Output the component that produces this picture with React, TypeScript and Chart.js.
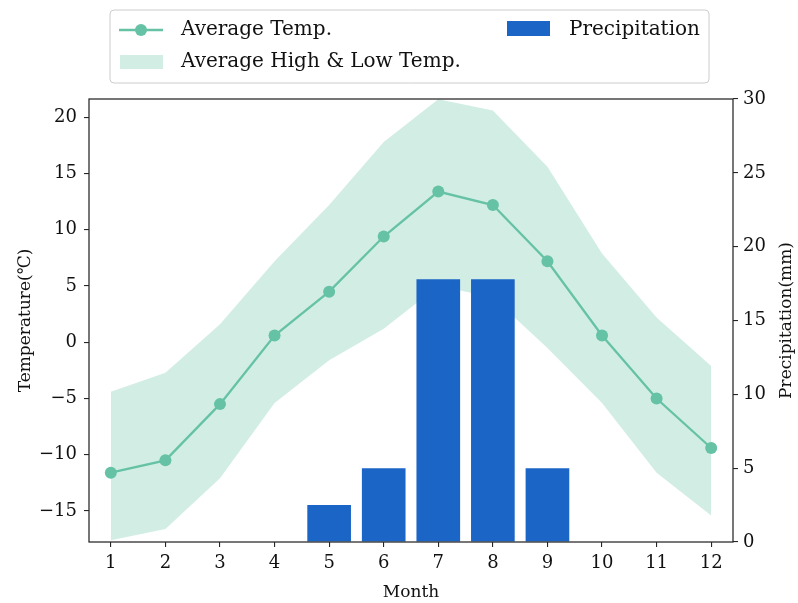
import React, { useEffect, useRef } from "react";
import { Chart, registerables } from "chart.js";

Chart.register(...registerables);

const months = [1, 2, 3, 4, 5, 6, 7, 8, 9, 10, 11, 12];
const avgTemp = [-11.6, -10.5, -5.5, 0.6, 4.5, 9.4, 13.4, 12.2, 7.2, 0.6, -5.0, -9.4];
const highTemp = [-4.4, -2.7, 1.6, 7.2, 12.2, 17.8, 21.6, 20.6, 15.6, 7.9, 2.2, -2.1];
const lowTemp = [-17.6, -16.6, -12.1, -5.4, -1.6, 1.2, 5.0, 4.0, -0.5, -5.4, -11.6, -15.4];
const precipitation = [0, 0, 0, 0, 2.5, 5, 17.8, 17.8, 5, 0, 0, 0];
const tempTicks = [-15, -10, -5, 0, 5, 10, 15, 20];
const precipTicks = [0, 5, 10, 15, 20, 25, 30];

const FONT = "'DejaVu Serif', serif";
const GREEN = "#66c2a5";
const BAND = "rgba(102,194,165,0.3)";
const BLUE = "#1b65c6";
const INK = "#262626";

const framePlugin = {
  id: "frameAndLegend",
  afterDraw(chart: any) {
    const { ctx, chartArea } = chart;
    ctx.save();
    ctx.strokeStyle = INK;
    ctx.lineWidth = 1.25;
    ctx.strokeRect(chartArea.left, chartArea.top, chartArea.right - chartArea.left, chartArea.bottom - chartArea.top);

    // right axis title (reads bottom to top)
    ctx.save();
    ctx.translate(787, (chartArea.top + chartArea.bottom) / 2);
    ctx.rotate(-Math.PI / 2);
    ctx.fillStyle = "#111";
    ctx.font = `17px ${FONT}`;
    ctx.textAlign = "center";
    ctx.textBaseline = "middle";
    ctx.fillText("Precipitation(mm)", 0, 0);
    ctx.restore();

    // legend box
    const bx = 110, by = 10, bw = 599, bh = 73, r = 4;
    ctx.beginPath();
    ctx.moveTo(bx + r, by);
    ctx.lineTo(bx + bw - r, by);
    ctx.quadraticCurveTo(bx + bw, by, bx + bw, by + r);
    ctx.lineTo(bx + bw, by + bh - r);
    ctx.quadraticCurveTo(bx + bw, by + bh, bx + bw - r, by + bh);
    ctx.lineTo(bx + r, by + bh);
    ctx.quadraticCurveTo(bx, by + bh, bx, by + bh - r);
    ctx.lineTo(bx, by + r);
    ctx.quadraticCurveTo(bx, by, bx + r, by);
    ctx.closePath();
    ctx.fillStyle = "rgba(255,255,255,0.8)";
    ctx.fill();
    ctx.strokeStyle = "#cccccc";
    ctx.lineWidth = 1;
    ctx.stroke();

    // line entry
    ctx.strokeStyle = GREEN;
    ctx.lineWidth = 2.3;
    ctx.beginPath();
    ctx.moveTo(119, 30);
    ctx.lineTo(163, 30);
    ctx.stroke();
    ctx.fillStyle = GREEN;
    ctx.beginPath();
    ctx.arc(141, 30, 6, 0, Math.PI * 2);
    ctx.fill();
    // band entry
    ctx.fillStyle = BAND;
    ctx.fillRect(120, 55, 43, 14);
    // bar entry
    ctx.fillStyle = BLUE;
    ctx.fillRect(507, 21, 43, 15);

    ctx.fillStyle = "#111";
    ctx.font = `20px ${FONT}`;
    ctx.textBaseline = "middle";
    ctx.textAlign = "left";
    ctx.fillText("Average Temp.", 181, 30);
    ctx.fillText("Average High & Low Temp.", 181, 62);
    ctx.fillText("Precipitation", 569, 30);
    ctx.restore();
  },
};

export default function App() {
  const ref = useRef<HTMLCanvasElement>(null);
  useEffect(() => {
    if (!ref.current) return;
    Chart.defaults.font.family = FONT;
    Chart.defaults.color = "#111";
    const pts = (arr: number[]) => months.map((m, i) => ({ x: m, y: arr[i] }));
    const chart = new Chart(ref.current, {
      type: "bar",
      data: {
        datasets: [
          {
            type: "line",
            label: "High",
            data: pts(highTemp),
            yAxisID: "y",
            borderWidth: 0,
            pointRadius: 0,
            backgroundColor: BAND,
            fill: "+1",
            order: 4,
          } as any,
          {
            type: "line",
            label: "Low",
            data: pts(lowTemp),
            yAxisID: "y",
            borderWidth: 0,
            pointRadius: 0,
            fill: false,
            order: 4,
          } as any,
          {
            type: "line",
            label: "Average Temp.",
            data: pts(avgTemp),
            yAxisID: "y",
            borderColor: GREEN,
            backgroundColor: GREEN,
            borderWidth: 2.3,
            pointRadius: 6,
            pointBorderWidth: 0,
            pointBackgroundColor: GREEN,
            fill: false,
            order: 2,
          } as any,
          {
            type: "bar",
            label: "Precipitation",
            data: pts(precipitation),
            yAxisID: "y1",
            backgroundColor: BLUE,
            borderWidth: 0,
            categoryPercentage: 1,
            barPercentage: 0.8,
            order: 1,
          } as any,
        ],
      },
      options: {
        animation: false,
        responsive: false,
        maintainAspectRatio: false,
        layout: { padding: { top: 99, left: 0, right: 0, bottom: 0 } },
        plugins: { legend: { display: false }, tooltip: { enabled: false } },
        scales: {
          x: {
            type: "linear",
            min: 0.6,
            max: 12.4,
            offset: false,
            afterBuildTicks: (s: any) => { s.ticks = months.map((v) => ({ value: v })); },
            afterFit: (s: any) => { s.height = 61; },
            grid: { offset: false, drawOnChartArea: false, drawTicks: true, tickLength: 5, color: INK, lineWidth: 1.1 },
            border: { display: false },
            ticks: { font: { size: 18 }, padding: 6, color: "#111", maxRotation: 0, autoSkip: false },
            title: { display: true, text: "Month", font: { size: 17 }, padding: { top: 0, bottom: 0 }, color: "#111" },
          },
          y: {
            type: "linear",
            position: "left",
            min: -17.76,
            max: 21.63,
            afterBuildTicks: (s: any) => { s.ticks = tempTicks.map((v) => ({ value: v })); },
            afterFit: (s: any) => { s.width = 89; },
            grid: { drawOnChartArea: false, drawTicks: true, tickLength: 5, color: INK, lineWidth: 1.1 },
            border: { display: false },
            ticks: {
              font: { size: 18 },
              padding: 7,
              color: "#111",
              callback: (v: any) => (Number(v) < 0 ? "\u2212" + Math.abs(Number(v)) : String(v)),
            },
            title: { display: true, text: "Temperature(\u2103)", font: { size: 17 }, padding: { top: 15, bottom: 0 }, color: "#111" },
          },
          y1: {
            type: "linear",
            position: "right",
            min: 0,
            max: 30,
            afterBuildTicks: (s: any) => { s.ticks = precipTicks.map((v) => ({ value: v })); },
            afterFit: (s: any) => { s.width = 65; },
            grid: { drawOnChartArea: false, drawTicks: true, tickLength: 5, color: INK, lineWidth: 1.1 },
            border: { display: false },
            ticks: { font: { size: 18 }, padding: 5, color: "#111" },
            title: { display: false },
          },
        },
      } as any,
      plugins: [framePlugin],
    });
    return () => chart.destroy();
  }, []);
  return (
    <div style={{ position: "fixed", left: 0, top: 0, width: 798, height: 603, background: "#fff" }}>
      <canvas ref={ref} width={798} height={603} style={{ display: "block", width: 798, height: 603 }} />
    </div>
  );
}
